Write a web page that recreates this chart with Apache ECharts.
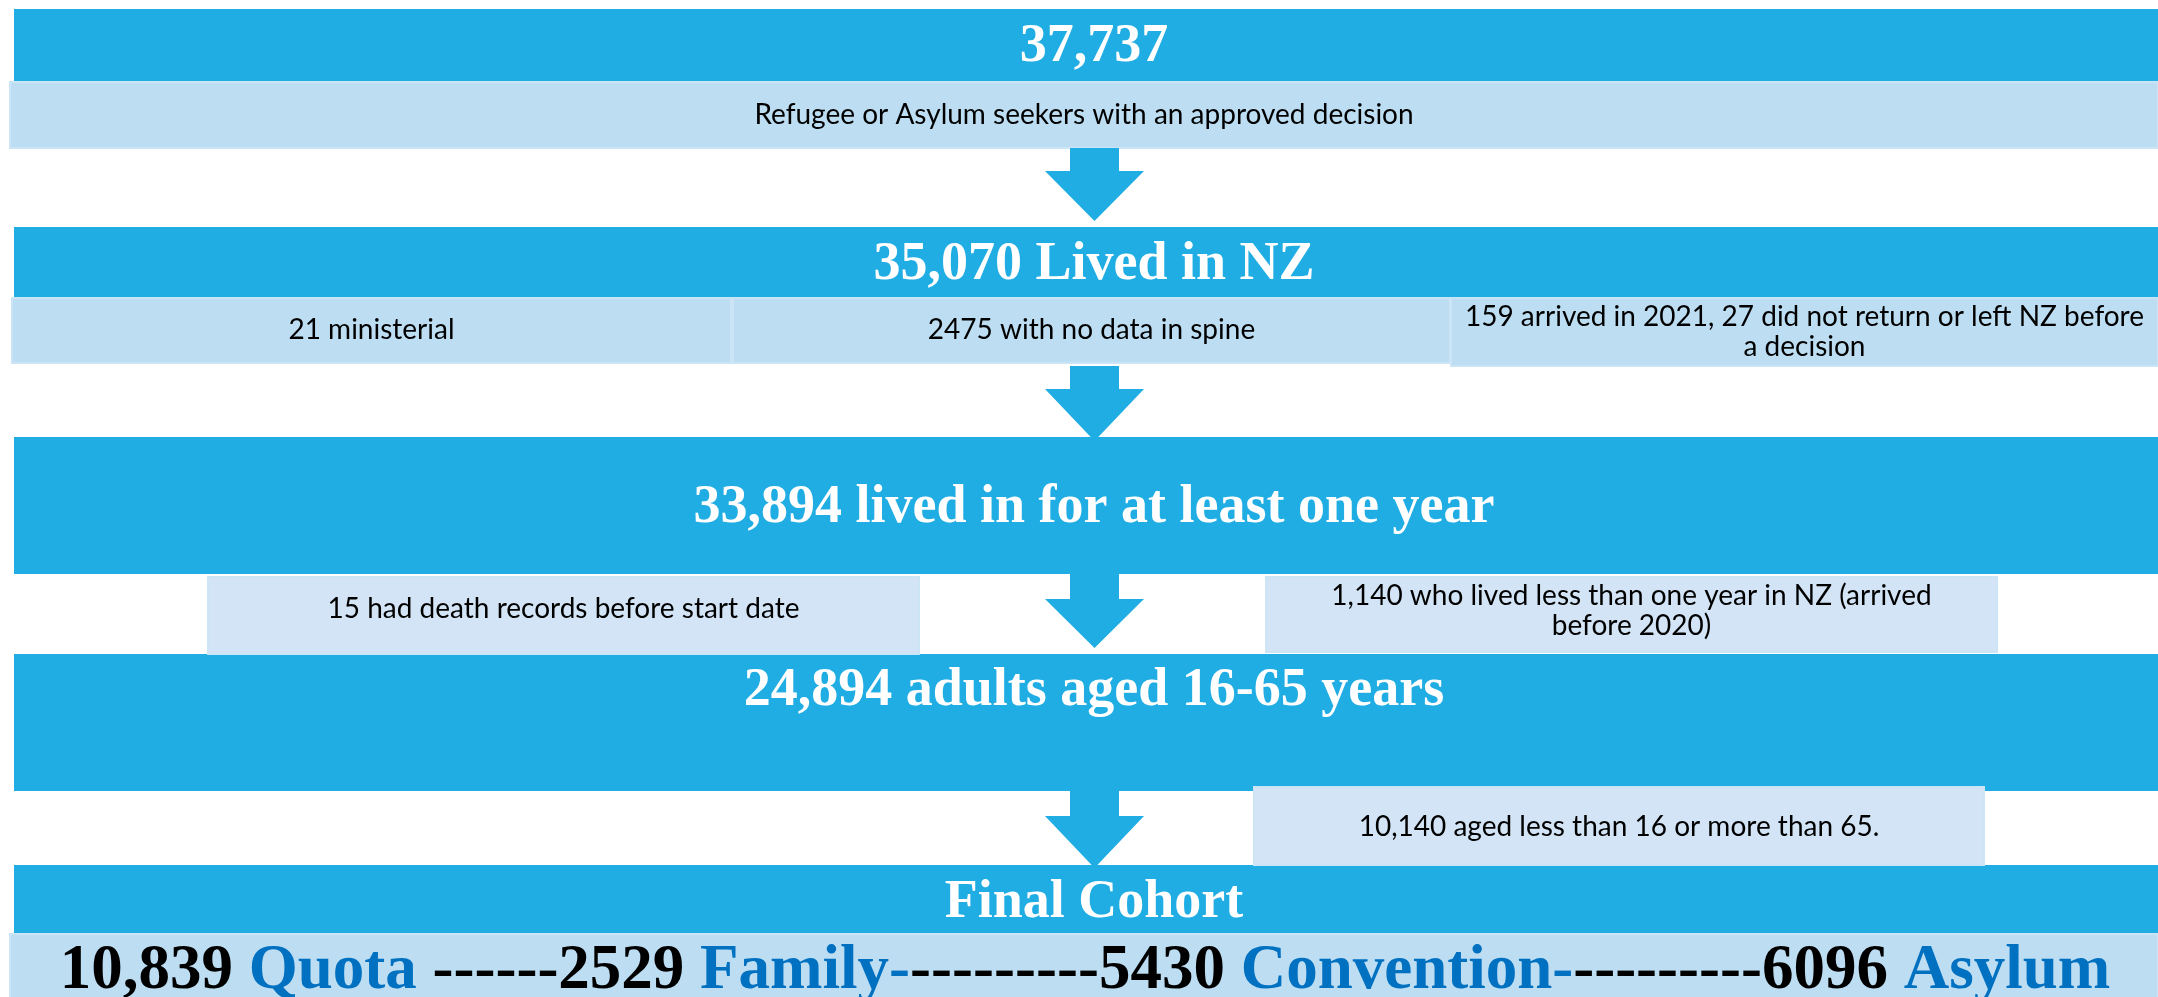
<!DOCTYPE html>
<html>
<head>
<meta charset="utf-8">
<title>Cohort flow</title>
<script src="https://cdn.jsdelivr.net/npm/echarts@6/dist/echarts.min.js"></script>
<style>
    html, body { margin: 0; padding: 0; background: #fff; }
    #main { width: 2158px; height: 997px; }
</style>
</head>
<body>
<div id="main"></div>
<script>
// stage headers (counts that pass each step)
var stageTitles = ['37,737', '35,070 Lived in NZ', '33,894 lived in for at least one year',
    '24,894 adults aged 16-65 years', 'Final Cohort'];
// text in the light boxes
var noteTexts = [
    'Refugee or Asylum seekers with an approved decision',
    '21 ministerial',
    '2475 with no data in spine',
    '159 arrived in 2021, 27 did not return or left NZ before\na decision',
    '15 had death records before start date',
    '1,140 who lived less than one year in NZ (arrived\nbefore 2020)',
    '10,140 aged less than 16 or more than 65.'
];
// final cohort split
var cohortCounts = ['10,839', '2529', '5430', '6096'];
var cohortTypes = ['Quota', 'Family', 'Convention', 'Asylum'];

// layout in axis units (x 0..2158, y 0..997 top-down)
var bands = [[14, 9, 2158, 81], [14, 227, 2158, 297], [14, 437, 2158, 574],
    [14, 654, 2158, 791], [14, 865, 2158, 934]];
var titleBase = [74, 292, 535, 718, 930];
var notes = [
    [10, 82, 2158, 148, 115, 0],
    [12, 298, 731, 363, 330, 0],
    [733, 298, 1450, 363, 330, 0],
    [1451, 298, 2158, 366, 332, 0],
    [208, 577, 919, 654, 609, 1],
    [1266, 577, 1997, 652, 611, 1],
    [1254, 787, 1984, 865, 827, 1]
];
var arrows = [[148, 171, 221], [366, 389, 441], [574, 599, 648], [791, 816, 868]];
var cohortBox = [10, 934, 2158, 1000];

var DARK = '#1FADE3';
var LIGHT = ['#BCDDF2', '#D2E4F5'];
var BLUE = '#0070C0';

function P(api, x, y) { return api.coord([x, y]); }

function rectEl(api, b, fill, stroke) {
    var a = P(api, b[0], b[1]), c = P(api, b[2], b[3]);
    return {
        type: 'rect',
        shape: { x: a[0], y: a[1], width: c[0] - a[0], height: c[1] - a[1] },
        style: { fill: fill, stroke: stroke || null, lineWidth: stroke ? 2 : 0 }
    };
}

function renderFlow(params, api) {
    var children = [];
    bands.forEach(function (b) { children.push(rectEl(api, b, DARK)); });
    notes.forEach(function (n, i) {
        children.push(rectEl(api, n, LIGHT[n[5]], '#CBE5F6'));
        var c = P(api, (n[0] + n[2]) / 2, n[4]);
        children.push({
            type: 'text',
            style: {
                x: c[0], y: c[1], text: noteTexts[i], fill: '#000',
                font: '28px Lato', align: 'center', verticalAlign: 'middle', lineHeight: 30
            }
        });
    });
    children.push(rectEl(api, cohortBox, LIGHT[0], '#CBE5F6'));
    arrows.forEach(function (a) {
        var pts = [[1070, a[0]], [1119, a[0]], [1119, a[1]], [1144, a[1]], [1094.5, a[2]],
            [1045, a[1]], [1070, a[1]]].map(function (p) { return P(api, p[0], p[1]); });
        children.push({ type: 'polygon', shape: { points: pts }, style: { fill: DARK } });
    });
    stageTitles.forEach(function (t, i) {
        var c = P(api, 1094, titleBase[i]);
        children.push({
            type: 'text',
            style: {
                x: c[0], y: c[1], text: t, fill: '#fff',
                font: 'bold 54px "Liberation Serif"', align: 'center', verticalAlign: 'bottom'
            }
        });
    });
    // bottom line: counts black, types blue, dashes between
    var dashes = ['------', '---------', '---------'];
    var txt = '';
    cohortCounts.forEach(function (n, i) {
        txt += '{n|' + n + '}{t|' + ' ' + cohortTypes[i] + '}';
        if (i === 0) txt += '{n| ' + dashes[i] + '}';
        else if (i < cohortCounts.length - 1) txt += '{t|-}{n|' + dashes[i] + '}';
    });
    var bc = P(api, 1085, 1003);
    children.push({
        type: 'text',
        style: {
            x: bc[0], y: bc[1], text: txt, align: 'center', verticalAlign: 'bottom',
            rich: {
                n: { fill: '#000', font: 'bold 63px "Liberation Serif"' },
                t: { fill: BLUE, font: 'bold 63px "Liberation Serif"' }
            }
        }
    });
    return { type: 'group', children: children };
}

var myChart = echarts.init(document.getElementById('main'));
var option = {
    animation: false,
    grid: { left: 0, right: 0, top: 0, bottom: 0 },
    xAxis: { type: 'value', min: 0, max: 2158, show: false },
    yAxis: { type: 'value', min: 0, max: 997, inverse: true, show: false },
    series: [{
        type: 'custom',
        renderItem: renderFlow,
        data: [[0, 0]],
        clip: false
    }]
};
myChart.setOption(option);
</script>
</body>
</html>
